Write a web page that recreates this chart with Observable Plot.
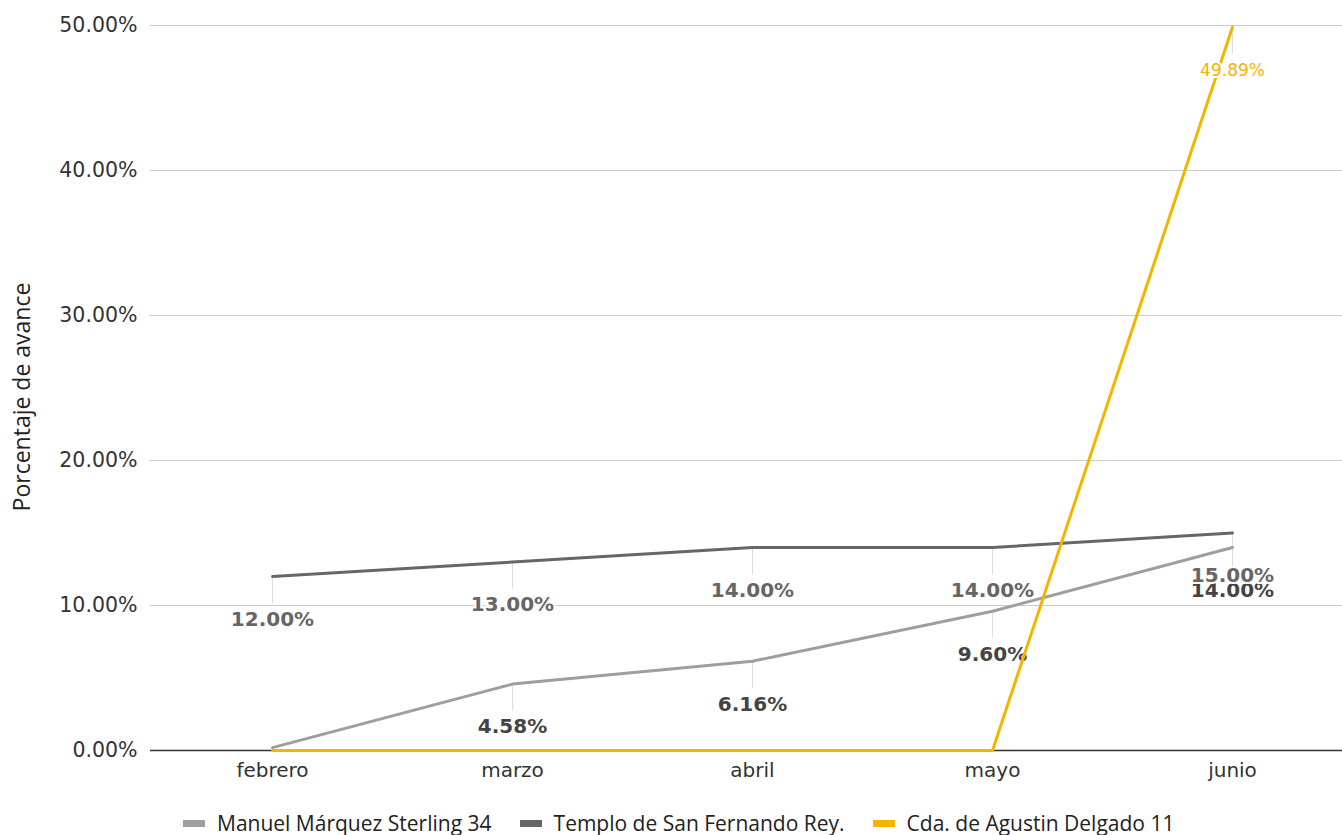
<!DOCTYPE html>
<html>
<head>
<meta charset="utf-8">
<script src="https://cdn.jsdelivr.net/npm/d3@7"></script>
<script src="https://cdn.jsdelivr.net/npm/@observablehq/plot@0.6"></script>
<style>
  html, body { margin: 0; padding: 0; background: #fff; }
  #chart svg { font-family: "DejaVu Sans" !important; font-size: 20px !important; color: #333 !important; background: #fff !important; }
  #legend {
    display: flex; align-items: center; height: 24px;
    padding-top: 21px; margin-left: 183px;
    font-family: "Open Sans", "Noto Sans", sans-serif; font-size: 21px; color: #222;
  }
  .item { display: flex; align-items: center; margin-right: 28px; white-space: nowrap; }
  .sw { width: 22px; height: 7px; margin-right: 12px; }
</style>
</head>
<body>
<div id="chart"></div>
<div id="legend"></div>
<script>
const months = ["febrero", "marzo", "abril", "mayo", "junio"];
const seriesNames = ["Manuel Márquez Sterling 34", "Templo de San Fernando Rey.", "Cda. de Agustin Delgado 11"];
const manuel = [0.2, 4.58, 6.16, 9.60, 14.00];
const templo = [12.00, 13.00, 14.00, 14.00, 15.00];
const cda = [0, 0, 0, 0, 49.89];
const yTicks = [0, 10, 20, 30, 40, 50];
const lineColors = ["#9e9e9e", "#666666", "#f4b400"];
const labelColors = ["#444444", "#666666", "#f4b400"];

const seriesValues = [manuel, templo, cda];
const data = [];
seriesValues.forEach((vals, si) => vals.forEach((v, mi) => data.push({series: seriesNames[si], si, month: months[mi], value: v})));
const bySeries = si => data.filter(d => d.si === si);
const labelled = si => bySeries(si).filter(d => d.value >= 1);
const fmt = v => v.toFixed(2) + "%";
const FONT = "DejaVu Sans";

const labelMark = (si, weight, size) => Plot.text(labelled(si), {
  x: "month", y: "value", text: d => fmt(d.value), dy: 43,
  fill: labelColors[si], fontWeight: weight, fontSize: size, fontFamily: FONT,
  stroke: "white", strokeWidth: 4, paintOrder: "stroke"
});
const leaderMark = si => Plot.ruleX(labelled(si), {
  x: "month", y1: "value", y2: "value", insetBottom: -27, stroke: "#dddddd", strokeWidth: 1
});
const lineMark = si => Plot.line(bySeries(si), {
  x: "month", y: "value", stroke: lineColors[si], strokeWidth: 3
});

const chart = Plot.plot({
  width: 1342, height: 790,
  marginLeft: 150, marginRight: 0, marginTop: 25, marginBottom: 40,
  style: "font-family: 'DejaVu Sans'; font-size: 20px; color: #333; background: white;",
  x: {type: "point", domain: months, range: [270, 1233], padding: 0},
  y: {domain: [0, 50]},
  marks: [
    Plot.gridY(yTicks, {stroke: "#cccccc", strokeOpacity: 1}),
    Plot.axisY(yTicks, {tickSize: 0, tickPadding: 13, tickFormat: fmt, label: null,
      fontFamily: FONT, fontSize: 20.5, fill: "#333"}),
    Plot.axisX(months, {tickSize: 0, tickPadding: 12, label: null,
      fontFamily: FONT, fontSize: 20, fill: "#333"}),
    Plot.text(["Porcentaje de avance"], {frameAnchor: "left", dx: -128, dy: 9, rotate: -90,
      textAnchor: "middle", fontFamily: "Open Sans", fontSize: 23, fill: "#222"}),
    leaderMark(0), leaderMark(1), leaderMark(2),
    lineMark(0), lineMark(1),
    Plot.ruleY([0], {stroke: "#333333", strokeWidth: 1.5}),
    labelMark(0, "bold", 20), labelMark(1, "bold", 20),
    lineMark(2),
    labelMark(2, "normal", 17)
  ]
});
document.getElementById("chart").appendChild(chart);

const legend = document.getElementById("legend");
seriesNames.forEach((name, i) => {
  const item = document.createElement("div");
  item.className = "item";
  const sw = document.createElement("span");
  sw.className = "sw";
  sw.style.background = lineColors[i];
  const t = document.createElement("span");
  t.textContent = name;
  item.appendChild(sw); item.appendChild(t);
  legend.appendChild(item);
});
</script>
</body>
</html>
